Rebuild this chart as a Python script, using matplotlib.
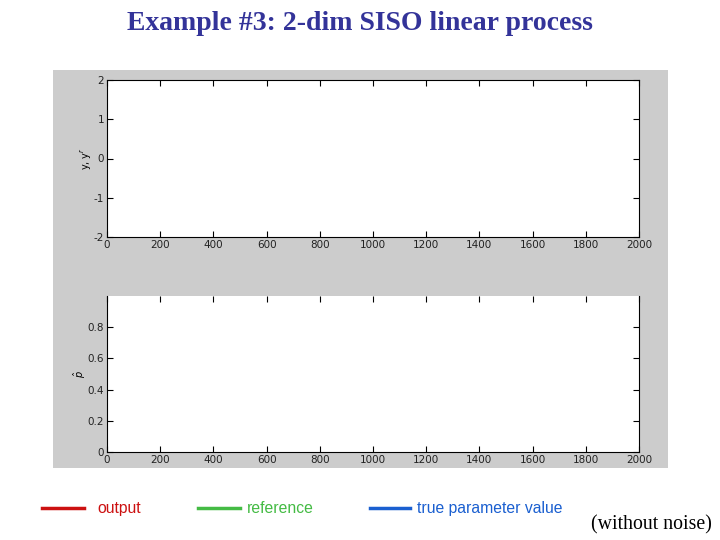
import matplotlib
matplotlib.use("Agg")
import matplotlib.pyplot as plt
from matplotlib.lines import Line2D
from matplotlib.patches import Rectangle

plt.rcParams["axes.unicode_minus"] = False

# Data (the panels show no traces in the reference)
time_steps = []
output_series = []
reference_series = []
true_param_series = []

legend_labels = ["output", "reference", "true parameter value"]
legend_colors = ["#cc1111", "#44bb44", "#1a5fd0"]

top_xticks = [0, 200, 400, 600, 800, 1000, 1200, 1400, 1600, 1800, 2000]
top_yticks = [-2, -1, 0, 1, 2]
bot_yticks = [0, 0.2, 0.4, 0.6, 0.8]

title_text = "Example #3: 2-dim SISO linear process"
note_text = "(without noise)"

fig = plt.figure(figsize=(7.2, 5.4), dpi=100)
fig.patch.set_facecolor("white")

# grey panel behind the plots
fig.add_artist(Rectangle((53/720, 1-468/540), 615/720, 398/540,
                         transform=fig.transFigure, facecolor="#cccccc",
                         edgecolor="none", zorder=0))

ax1 = fig.add_axes([107/720, 1-237/540, 532/720, 157/540])
ax2 = fig.add_axes([107/720, 1-452/540, 532/720, 156/540])

for ax in (ax1, ax2):
    ax.set_facecolor("white")
    ax.set_xlim(0, 2000)
    ax.set_xticks(top_xticks)
    ax.tick_params(direction="in", top=True, right=True, labelsize=7.5,
                   length=4, width=0.8, pad=2, labelcolor="#222222")
    for s in ax.spines.values():
        s.set_linewidth(0.8)

ax1.plot(time_steps, output_series, color=legend_colors[0])
ax1.plot(time_steps, reference_series, color=legend_colors[1])
ax1.set_ylim(-2, 2)
ax1.set_yticks(top_yticks)
ax1.set_ylabel("y, y$^r$", fontsize=7, labelpad=0)

ax2.plot(time_steps, true_param_series, color=legend_colors[2])
ax2.set_ylim(0, 1)
ax2.set_yticks(bot_yticks)
ax2.set_yticklabels(["0", "0.2", "0.4", "0.6", "0.8"])
ax2.spines["top"].set_visible(False)
ax2.set_ylabel(r"$\hat{p}$", fontsize=7, labelpad=0)

fig.text(0.5, 1-30/540, title_text, ha="center", va="baseline",
         family=["Liberation Serif", "DejaVu Serif"], fontweight="bold",
         fontsize=20, color="#333399")

# manual legend
line_x = [(42, 84), (198, 240), (370, 410)]
text_x = [97, 247, 417]
ly = 1 - 508/540
tb = 1 - 513/540
for (x0, x1), tx, lab, col in zip(line_x, text_x, legend_labels, legend_colors):
    fig.add_artist(Line2D([x0/720, x1/720], [ly, ly], transform=fig.transFigure,
                          color=col, linewidth=2.5))
    fig.text(tx/720, tb, lab, ha="left", va="baseline", color=col,
             family=["Liberation Sans Narrow", "Liberation Sans"],
             fontsize=11.3)

fig.text(712/720, 1-529/540, note_text, ha="right", va="baseline",
         family=["Liberation Serif", "DejaVu Serif"], fontsize=14.3, color="black")

fig.savefig("out.png", dpi=100)
